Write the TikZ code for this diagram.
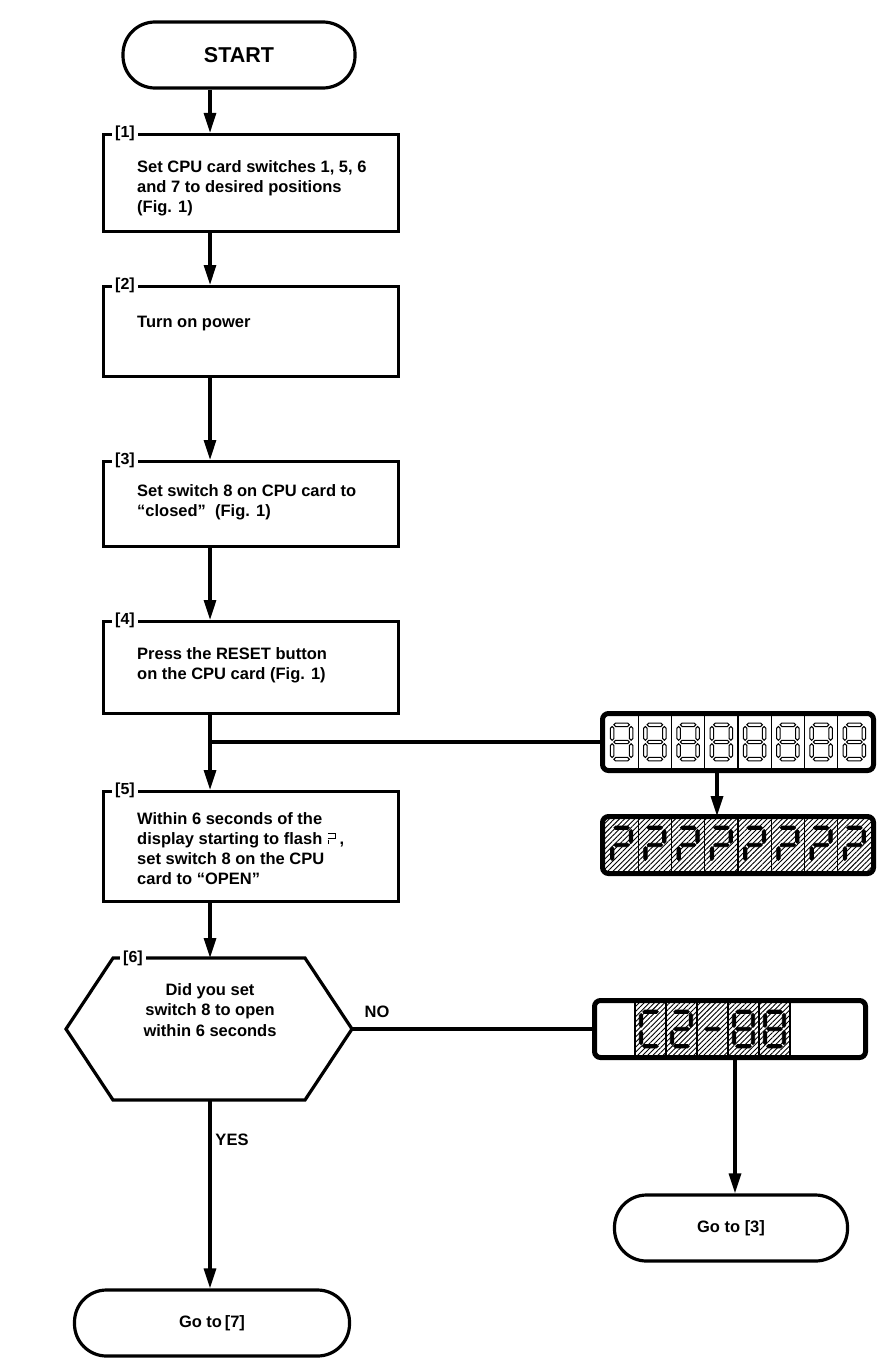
\documentclass[tikz,border=0pt]{standalone}
\usepackage{fontspec}
\setmainfont{Liberation Sans}
\usetikzlibrary{arrows.meta,positioning,calc,patterns.meta}

% segments of a 7-segment digit
\newcommand{\segH}[3]{(#1,#3) -- (#1+2,#3-2) -- (#2-2,#3-2) -- (#2,#3) -- (#2-2,#3+2) -- (#1+2,#3+2) -- cycle}
\newcommand{\segV}[3]{(#1,#2) -- (#1+2,#2+2) -- (#1+2,#3-2) -- (#1,#3) -- (#1-2,#3-2) -- (#1-2,#2+2) -- cycle}
\tikzset{
  seg a/.pic={\path[pic actions] \segH{-9}{9}{-20};},
  seg b/.pic={\path[pic actions] \segV{11}{-18}{-2};},
  seg c/.pic={\path[pic actions] \segV{11}{2}{18};},
  seg d/.pic={\path[pic actions] \segH{-9}{9}{20};},
  seg e/.pic={\path[pic actions] \segV{-11}{2}{18};},
  seg f/.pic={\path[pic actions] \segV{-11}{-18}{-2};},
  seg g/.pic={\path[pic actions] \segH{-9}{9}{0};}
}
% flashing P glyph in the text
\newcommand{\flashP}{{\setlength{\unitlength}{1pt}%
  \begin{picture}(10,11)
    \linethickness{1pt}
    \put(1,10.5){\line(1,0){8}}
    \put(8.6,5.4){\line(0,1){5.6}}
    \put(1,5.4){\line(1,0){8}}
    \linethickness{0.6pt}
    \put(1.6,0){\line(0,1){4.2}}
  \end{picture}}}

\begin{document}
\begin{tikzpicture}[x=1pt, y=-1pt,
    stepbox/.style={draw, line width=3.2pt, minimum width=295pt, anchor=north west, inner sep=0pt},
    steptext/.style={font=\bfseries\fontsize{16.5}{20}\selectfont, align=left, anchor=north west, inner sep=0pt},
    stepnum/.style={font=\bfseries\fontsize{16}{19}\selectfont, fill=white, inner xsep=3pt, inner ysep=1pt, anchor=west},
    terminal/.style={draw, line width=3.2pt, rounded corners=32pt, minimum height=66pt, font=\bfseries\fontsize{16.5}{20}\selectfont},
    flow/.style={line width=3.2pt, -{Triangle[width=12pt,length=20pt]}},
    wire/.style={line width=3.2pt},
    answer/.style={font=\bfseries\fontsize{16.5}{20}\selectfont, inner sep=1pt},
    hatch/.style={pattern={Lines[angle=45, distance=3.6pt, line width=0.9pt]}},
    display/.style={draw, line width=5pt, rounded corners=6pt, minimum width=271pt, minimum height=57pt},
    hollowseg/.style={draw, line width=1pt, scale=0.86},
    blackseg/.style={draw, fill=black, line width=0.8pt, scale=0.86}
  ]
  \useasboundingbox (0,0) rectangle (882,1362);
  \coordinate (col) at (210,0);

  % start
  \node[terminal, minimum width=232pt, font=\bfseries\fontsize{21.5}{24}\selectfont] (start) at (239,55) {START};

  % steps 1 to 5
  \node[stepbox, minimum height=97pt] (s1) at (102,133) {};
  \node[stepnum] (n1) at ([xshift=10pt]s1.north west) {[1]};
  \node[steptext] (t1) at ([xshift=35pt,yshift=-27pt]s1.north west)
    {Set CPU card switches 1, 5, 6\\and 7 to desired positions\\(Fig. 1)};

  \node[stepbox, minimum height=90pt] (s2) at (102,285) {};
  \node[stepnum] (n2) at ([xshift=10pt]s2.north west) {[2]};
  \node[steptext] (t2) at ([xshift=35pt,yshift=-31pt]s2.north west) {Turn on power};

  \node[stepbox, minimum height=85pt] (s3) at (102,460) {};
  \node[stepnum] (n3) at ([xshift=10pt]s3.north west) {[3]};
  \node[steptext] (t3) at ([xshift=35pt,yshift=-24pt]s3.north west)
    {Set switch 8 on CPU card to\\“closed”\ \ (Fig. 1)};

  \node[stepbox, minimum height=92pt] (s4) at (102,620) {};
  \node[stepnum] (n4) at ([xshift=10pt]s4.north west) {[4]};
  \node[steptext] (t4) at ([xshift=35pt,yshift=-27pt]s4.north west)
    {Press the RESET button\\on the CPU card (Fig. 1)};

  \node[stepbox, minimum height=110pt] (s5) at (102,790) {};
  \node[stepnum] (n5) at ([xshift=10pt]s5.north west) {[5]};
  \node[steptext] (t5) at ([xshift=35pt,yshift=-22pt]s5.north west)
    {Within 6 seconds of the\\display starting to flash \flashP\,,\\set switch 8 on the CPU\\card to “OPEN”};

  % question 6
  \node[font=\bfseries\fontsize{16.5}{20.5}\selectfont, align=center, inner sep=0pt] (q6) at (210,1010)
    {Did you set\\switch 8 to open\\within 6 seconds};
  \coordinate (q6w) at (66,1029);
  \coordinate (q6e) at (352,1029);
  \coordinate (q6n) at (210,958);
  \coordinate (q6s) at (210,1100);
  \draw[wire] (q6w) -- (113,958) -- (305,958) -- (q6e) -- (305,1100) -- (113,1100) -- cycle;
  \node[stepnum] (n6) at (120,958) {[6]};

  % ends
  \node[terminal, minimum width=275pt] (go7) at (212,1323) {Go to\,[7]};
  \node[terminal, minimum width=233pt] (go3) at (731,1228) {Go to [3]};

  % displays
  \node[display] (d1) at (738,742) {};
  \node[display, hatch] (d2) at (738,845) {};
  \node[display] (d3) at (730,1029) {};
  \foreach \i in {1,...,7} {
    \draw[line width=1.1pt] (605+33.25*\i,716) -- (605+33.25*\i,768);
    \draw[line width=1.1pt] (605+33.25*\i,819) -- (605+33.25*\i,871);
  }
  \foreach \i in {0,...,7} {
    \foreach \s in {a,b,c,d,e,f,g}
      \pic[hollowseg] at ({605+33.25*(\i+0.5)},742) {seg \s};
    \foreach \s in {a,b,g,e}
      \pic[blackseg] at ({605+33.25*(\i+0.5)},845) {seg \s};
  }
  \fill[hatch] (635,1003) rectangle (790,1055);
  \foreach \i in {0,...,5}
    \draw[line width=1.1pt] (635+31*\i,1003) -- (635+31*\i,1055);
  \foreach \i/\segs in {0/{a,d,e,f}, 1/{a,b,g,e,d}, 2/{g}, 3/{a,b,c,d,e,f,g}, 4/{a,b,c,d,e,f,g}} {
    \foreach \s in \segs
      \pic[blackseg] at ({635+31*(\i+0.5)},1029) {seg \s};
  }

  % connectors
  \draw[flow] (col |- start.south) -- (col |- s1.north);
  \draw[flow] (col |- s1.south) -- (col |- s2.north);
  \draw[flow] (col |- s2.south) -- (col |- s3.north);
  \draw[flow] (col |- s3.south) -- (col |- s4.north);
  \draw[flow] (col |- s4.south) -- (col |- s5.north);
  \draw[wire] (col |- d1.west) -- (d1.west);
  \draw[flow] ([xshift=-21pt]d1.south) -- ([xshift=-21pt]d1.south |- d2.north);
  \draw[flow] (col |- s5.south) -- (q6n);
  \draw[wire] (q6e) -- (d3.west);
  \node[answer] (no) at (377,1012) {NO};
  \draw[flow] (q6s) -- (col |- go7.north);
  \node[answer] (yes) at (232,1140) {YES};
  \draw[flow] ([xshift=5pt]d3.south) -- ([xshift=5pt]d3.south |- go3.north);
\end{tikzpicture}
\end{document}
